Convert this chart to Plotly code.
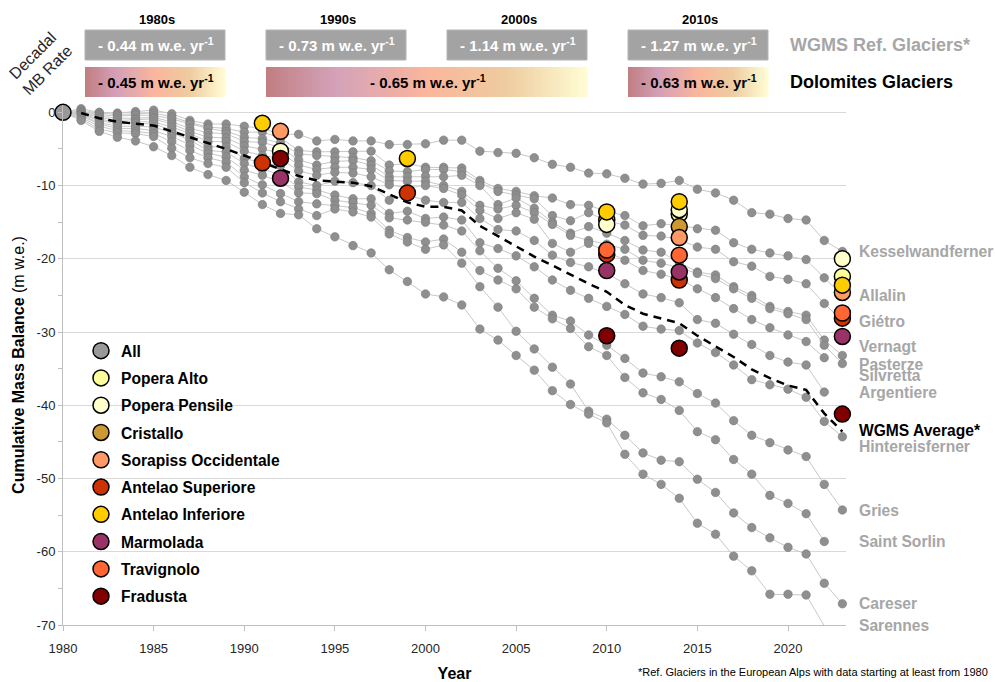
import plotly.graph_objects as go

# ---------------- DATA ----------------
years = list(range(1980, 2024))

kesselwandferner = [0, 0.5, 0.0, -0.1, 0.1, 0.3, -0.2, -1.1, -1.6, -1.6, -1.9, -2.2, -3.0, -3.0, -3.9, -3.7, -3.9, -3.9, -4.4, -4.4, -4.3, -3.8, -3.8, -5.3, -5.5, -5.6, -6.2, -7.1, -7.5, -8.3, -8.4, -9.0, -9.8, -9.7, -9.3, -10.5, -11.0, -12.0, -13.7, -13.9, -14.5, -14.7, -17.5, -19.0]
allalin = [0, 0.3, -0.1, -0.3, -0.2, -0.1, -0.6, -1.4, -2.0, -2.2, -2.7, -2.7, -3.5, -5.2, -5.4, -5.4, -5.4, -5.3, -7.2, -7.0, -7.5, -7.5, -7.6, -9.3, -10.4, -10.8, -11.4, -11.7, -12.6, -12.7, -13.5, -14.1, -15.5, -15.2, -15.5, -15.9, -16.1, -17.8, -18.7, -19.2, -19.6, -20.1, -22.6, -25.0]
gietro = [0, 0.1, -0.3, -0.5, -0.4, -0.4, -0.9, -1.6, -2.2, -2.6, -3.4, -3.6, -4.2, -5.7, -5.9, -6.1, -6.2, -6.6, -8.0, -8.1, -7.8, -7.8, -8.1, -9.6, -10.8, -11.3, -11.8, -14.1, -14.8, -13.7, -14.8, -15.4, -16.8, -16.9, -17.4, -18.4, -18.7, -20.4, -21.0, -22.4, -22.8, -23.4, -26.1, -28.5]
vernagt = [0, 0.0, -0.5, -0.8, -0.8, -0.7, -1.3, -2.2, -2.8, -2.9, -4.0, -4.1, -4.8, -6.5, -7.2, -6.7, -6.6, -7.2, -8.8, -8.8, -8.7, -8.8, -8.6, -10.0, -12.6, -11.7, -13.1, -15.0, -16.5, -15.6, -16.5, -17.5, -18.8, -19.1, -20.5, -21.8, -22.2, -23.8, -25.0, -26.5, -27.2, -27.7, -31.1, -33.2]
pasterze = [0, -0.1, -0.7, -1.1, -1.0, -0.9, -1.6, -2.6, -3.4, -3.5, -4.6, -5.0, -5.5, -7.2, -7.8, -7.5, -7.5, -7.8, -9.3, -9.4, -9.4, -10.0, -10.8, -12.7, -13.2, -12.7, -13.7, -15.3, -16.8, -17.5, -18.0, -18.7, -20.2, -20.6, -21.2, -22.0, -22.7, -24.1, -25.4, -26.8, -27.5, -28.3, -31.8, -34.3]
silvretta = [0, -0.2, -0.9, -1.4, -1.3, -1.3, -2.0, -2.9, -4.0, -4.0, -5.3, -5.9, -6.3, -8.0, -8.6, -8.2, -8.3, -8.8, -9.9, -10.3, -10.0, -10.4, -11.3, -13.4, -14.5, -13.7, -14.6, -17.9, -19.1, -17.9, -19.0, -20.2, -21.6, -22.1, -22.8, -24.1, -25.3, -26.8, -28.3, -29.4, -30.4, -31.3, -33.5, None]
argentiere = [0, -0.3, -1.1, -1.6, -1.5, -1.6, -2.4, -3.4, -4.7, -4.7, -6.3, -6.9, -7.3, -9.5, -10.0, -9.4, -9.6, -10.0, -12.0, -11.3, -12.0, -12.3, -12.3, -14.5, -16.0, -16.2, -17.5, -19.5, -20.5, -21.1, -22.0, -23.4, -24.8, -25.3, -26.0, -28.3, -28.8, -30.3, -31.7, -33.2, -34.1, -34.5, -38.2, None]
hintereisferner = [0, -0.4, -1.4, -1.9, -1.9, -2.0, -2.8, -3.8, -5.2, -5.4, -7.0, -7.8, -8.5, -10.2, -10.6, -11.3, -11.8, -11.8, -13.8, -13.5, -14.5, -14.3, -14.7, -17.8, -18.6, -19.6, -21.1, -22.9, -24.3, -25.4, -26.5, -27.6, -29.2, -29.6, -29.8, -31.5, -32.8, -34.5, -36.5, -37.2, -37.8, -38.9, -42.2, -44.3]
gries = [0, -0.5, -1.6, -2.2, -2.2, -2.5, -3.3, -4.5, -5.6, -6.1, -7.9, -8.6, -9.5, -11.0, -11.1, -12.0, -12.3, -12.7, -14.4, -14.7, -15.0, -15.4, -16.2, -18.9, -21.3, -23.0, -25.4, -27.7, -28.5, -30.4, -31.8, -33.6, -35.6, -36.1, -36.8, -38.4, -39.7, -42.1, -44.1, -45.1, -46.1, -47.0, -50.8, -54.3]
saint_sorlin = [0, -0.7, -1.9, -2.5, -2.6, -2.9, -4.0, -5.2, -6.2, -6.8, -8.8, -9.9, -11.1, -12.2, -12.5, -12.7, -13.0, -13.8, -16.1, -17.1, -17.7, -17.3, -19.1, -21.6, -22.9, -24.1, -26.6, -28.2, -29.5, -32.0, -33.2, -36.2, -38.3, -39.2, -40.7, -43.6, -44.7, -47.4, -49.4, -52.3, -53.4, -54.8, -58.6, None]
careser = [0, -0.9, -2.3, -2.8, -2.9, -3.3, -4.9, -6.2, -7.0, -7.5, -9.6, -11.0, -12.2, -13.2, -14.1, -13.2, -13.6, -14.3, -16.6, -17.7, -18.7, -18.1, -20.6, -23.8, -26.6, -29.9, -32.3, -34.8, -37.1, -40.8, -41.9, -44.1, -46.5, -47.5, -47.7, -50.1, -51.9, -54.7, -56.7, -58.1, -59.4, -60.3, -64.3, -67.1]
sarennes = [0, -1.1, -2.6, -3.4, -3.9, -4.7, -5.9, -7.5, -8.5, -9.3, -10.9, -12.6, -13.8, -14.0, -15.9, -17.0, -18.2, -19.2, -21.5, -23.1, -24.8, -25.2, -26.3, -29.6, -31.1, -33.2, -35.2, -38.0, -39.9, -41.2, -42.4, -46.7, -49.4, -50.8, -52.7, -56.1, -57.6, -60.6, -62.6, -65.8, -65.8, -65.9, -70.1, None]

wgms_names = ["Kesselwandferner", "Allalin", "Giétro", "Vernagt", "Pasterze", "Silvretta",
              "Argentiere", "Hintereisferner", "Gries", "Saint Sorlin", "Careser", "Sarennes"]
wgms_series = [kesselwandferner, allalin, gietro, vernagt, pasterze, silvretta,
               argentiere, hintereisferner, gries, saint_sorlin, careser, sarennes]

avg_years = list(range(1981, 2024))
wgms_average = [-0.1, -0.8, -1.3, -1.5, -1.8, -2.6, -3.4, -4.1, -5.0, -5.9, -6.8, -7.8, -8.7, -9.3, -9.4, -9.6, -10.1, -11.2, -12.3, -12.9, -12.9, -13.4, -15.5, -16.9, -18.3, -19.7, -20.9, -22.2, -23.4, -24.5, -26.3, -27.5, -28.2, -28.8, -30.5, -32.0, -33.4, -35.1, -36.3, -37.3, -37.9, -41.1, -43.6]

# Dolomites glaciers (year, cumulative MB)
dolo_names = ["All", "Popera Alto", "Popera Pensile", "Cristallo", "Sorapiss Occidentale",
              "Antelao Superiore", "Antelao Inferiore", "Marmolada", "Travignolo", "Fradusta"]
dolo_years = [
    [1980],
    [2010, 2014, 2023],
    [1992, 2010, 2014, 2023],
    [2014],
    [1992, 2014, 2023],
    [1991, 1999, 2010, 2014, 2023],
    [1991, 1999, 2010, 2014, 2023],
    [1992, 2010, 2014, 2023],
    [2010, 2014, 2023],
    [1992, 2010, 2014, 2023],
]
dolo_mb = [
    [0.0],
    [-14.7, -13.9, -22.4],
    [-5.3, -15.3, -13.3, -20.0],
    [-15.6],
    [-2.6, -17.1, -24.6],
    [-6.9, -11.0, -19.4, -22.9, -28.1],
    [-1.5, -6.3, -13.6, -12.2, -23.6],
    [-9.0, -21.6, -21.8, -30.6],
    [-18.8, -19.5, -27.4],
    [-6.3, -30.5, -32.2, -41.2],
]

decades = ["1980s", "1990s", "2000s", "2010s"]
wgms_rates = [-0.44, -0.73, -1.14, -1.27]
dolo_rates = [-0.45, -0.65, -0.63]

x_ticks = [1980, 1985, 1990, 1995, 2000, 2005, 2010, 2015, 2020]
y_ticks = [0, -10, -20, -30, -40, -50, -60, -70]

# ---------------- STYLE ----------------
FONT = "Arial, Liberation Sans, sans-serif"
dolo_colors = ["#999999", "#FFFF99", "#FFFFCC", "#CC3300", "#FF9966",
               "#CC3300", "#FFCC00", "#993366", "#FF6633", "#800000"]
dolo_colors[3] = "#CC9933"
label_yshift = {"Vernagt": 9, "Pasterze": -1, "Silvretta": -18, "Hintereisferner": -10}

W, H = 995, 682
L, R, T, B = 63, 149, 105, 57
PW, PH = W - L - R, H - T - B
Y_RANGE = [-70, 1.0]


def pxx(px):
    return (px - L) / PW


def pxy(py):
    return (H - B - py) / PH


def val_to_paper(v):
    return (v - Y_RANGE[0]) / (Y_RANGE[1] - Y_RANGE[0])


fig = go.Figure()

for name, s in zip(wgms_names, wgms_series):
    fig.add_trace(go.Scatter(
        x=years, y=s, mode="lines+markers", name=name, showlegend=False,
        line=dict(color="#C8C8C8", width=1),
        marker=dict(size=8.5, color="#8F8F8F", line=dict(color="#7A7A7A", width=0.6)),
        cliponaxis=False, hoverinfo="x+y+name"))

fig.add_trace(go.Scatter(
    x=avg_years, y=wgms_average, mode="lines", name="WGMS Average*", showlegend=False,
    line=dict(color="black", width=2.5, dash="8px,6px"), cliponaxis=False))

for i, (name, xs, ys, c) in enumerate(zip(dolo_names, dolo_years, dolo_mb, dolo_colors)):
    fig.add_trace(go.Scatter(
        x=xs, y=ys, mode="markers", name=name, legendgroup=f"g{i}",
        marker=dict(size=16, color=c, line=dict(color="black", width=1.5)),
        cliponaxis=False))

annotations = []
# right-hand glacier labels
for name, s in zip(wgms_names, wgms_series):
    last = [v for v in s if v is not None][-1]
    annotations.append(dict(
        x=2023, y=val_to_paper(last), xref="x", yref="paper", xanchor="left", yanchor="middle",
        xshift=15, yshift=label_yshift.get(name, 0), showarrow=False, text=name,
        font=dict(family=FONT, size=15.6, color="#A6A6A6", weight="bold")))
annotations.append(dict(
    x=2023, y=val_to_paper(wgms_average[-1]), xref="x", yref="paper", xanchor="left",
    yanchor="middle", xshift=15, yshift=1, showarrow=False, text="WGMS Average*",
    font=dict(family=FONT, size=15.6, color="black", weight="bold")))

shapes = []
# header: WGMS decadal rate boxes
gray_boxes = [(85, 225), (266, 406), (447, 587), (628, 768)]
for (x0, x1), dec, r in zip(gray_boxes, decades, wgms_rates):
    shapes.append(dict(type="rect", xref="paper", yref="paper",
                       x0=pxx(x0), x1=pxx(x1), y0=pxy(60), y1=pxy(30),
                       fillcolor="#A3A3A3", line=dict(color="#B5B5B5", width=1)))
    annotations.append(dict(x=pxx((x0 + x1) / 2 + 1), y=pxy(45), xref="paper", yref="paper",
                            showarrow=False, xanchor="center", yanchor="middle",
                            text=f"- {abs(r):.2f} m w.e. yr<sup>-1</sup>",
                            font=dict(family=FONT, size=15, color="white", weight="bold")))
    annotations.append(dict(x=pxx((x0 + x1) / 2 + 2), y=pxy(20), xref="paper", yref="paper",
                            showarrow=False, xanchor="center", yanchor="middle", text=dec,
                            font=dict(family=FONT, size=13, color="black", weight="bold")))

# header: Dolomites gradient boxes
grad_stops = [(0.0, (192, 126, 128)), (0.22, (212, 160, 184)), (0.5, (250, 182, 156)),
              (0.75, (238, 204, 160)), (1.0, (255, 253, 212))]


def grad_color(t):
    for (t0, c0), (t1, c1) in zip(grad_stops[:-1], grad_stops[1:]):
        if t <= t1:
            f = (t - t0) / (t1 - t0)
            return "rgb(%d,%d,%d)" % tuple(round(a + (b - a) * f) for a, b in zip(c0, c1))
    return "rgb(%d,%d,%d)" % grad_stops[-1][1]


grad_boxes = [(85, 225), (266, 587), (628, 768)]
for (x0, x1), r in zip(grad_boxes, dolo_rates):
    n = int((x1 - x0) / 2)
    for i in range(n):
        a = x0 + (x1 - x0) * i / n
        b = x0 + (x1 - x0) * (i + 1) / n + 0.6
        shapes.append(dict(type="rect", xref="paper", yref="paper", layer="below",
                           x0=pxx(a), x1=pxx(b), y0=pxy(97), y1=pxy(67),
                           fillcolor=grad_color((i + 0.5) / n), line=dict(width=0)))
    annotations.append(dict(x=pxx((x0 + x1) / 2 + 1), y=pxy(82), xref="paper", yref="paper",
                            showarrow=False, xanchor="center", yanchor="middle",
                            text=f"- {abs(r):.2f} m w.e. yr<sup>-1</sup>",
                            font=dict(family=FONT, size=15, color="black", weight="bold")))

annotations += [
    dict(x=pxx(788), y=pxy(45), xref="paper", yref="paper", showarrow=False,
         xanchor="left", yanchor="middle", text="WGMS Ref. Glaciers*",
         font=dict(family=FONT, size=18, color="#A6A6A6", weight="bold")),
    dict(x=pxx(788), y=pxy(82), xref="paper", yref="paper", showarrow=False,
         xanchor="left", yanchor="middle", text="Dolomites Glaciers",
         font=dict(family=FONT, size=18, color="black", weight="bold")),
    dict(x=pxx(40), y=pxy(63), xref="paper", yref="paper", showarrow=False,
         xanchor="center", yanchor="middle", text="Decadal<br>MB Rate", textangle=-45,
         font=dict(family=FONT, size=16, color="#262626")),
    dict(x=pxx(990), y=pxy(672), xref="paper", yref="paper", showarrow=False,
         xanchor="right", yanchor="middle",
         text="*Ref. Glaciers in the European Alps with data starting at least from 1980",
         font=dict(family=FONT, size=11, color="black")),
]

fig.update_layout(
    width=W, height=H,
    margin=dict(l=L, r=R, t=T, b=B, autoexpand=False),
    paper_bgcolor="white", plot_bgcolor="white",
    font=dict(family=FONT, size=13, color="#262626"),
    shapes=shapes, annotations=annotations,
    showlegend=True,
    legend=dict(x=pxx(81), y=pxy(334), xanchor="left", yanchor="top",
                bgcolor="rgba(0,0,0,0)", borderwidth=0, tracegroupgap=4,
                font=dict(family=FONT, size=15.6, color="black", weight="bold")),
    xaxis=dict(range=[1980, 2023.2], tickvals=x_ticks, ticktext=[str(v) for v in x_ticks],
               showgrid=False, zeroline=False, showline=True, linecolor="#BFBFBF", linewidth=1,
               ticks="outside", ticklen=5, tickcolor="#BFBFBF", ticklabelstandoff=6,
               tickfont=dict(size=13, color="#262626"),
               title=dict(text="<b>Year</b>", font=dict(size=16, color="black"), standoff=17)),
    yaxis=dict(range=Y_RANGE, tickvals=y_ticks, ticktext=[str(v) for v in y_ticks],
               showgrid=True, gridcolor="#D9D9D9", gridwidth=1, zeroline=False,
               showline=True, linecolor="#BFBFBF", linewidth=1,
               ticks="outside", ticklen=4, tickcolor="#BFBFBF",
               minor=dict(dtick=5, tick0=0, ticks="outside", ticklen=4, tickcolor="#BFBFBF", showgrid=False),
               tickfont=dict(size=13, color="#262626"),
               title=dict(text="<b>Cumulative Mass Balance</b> (m w.e.)",
                          font=dict(size=16, color="black"), standoff=8)),
)

fig.write_html("out.html", config={"displayModeBar": False},
               post_script="document.body.style.margin='0';")
